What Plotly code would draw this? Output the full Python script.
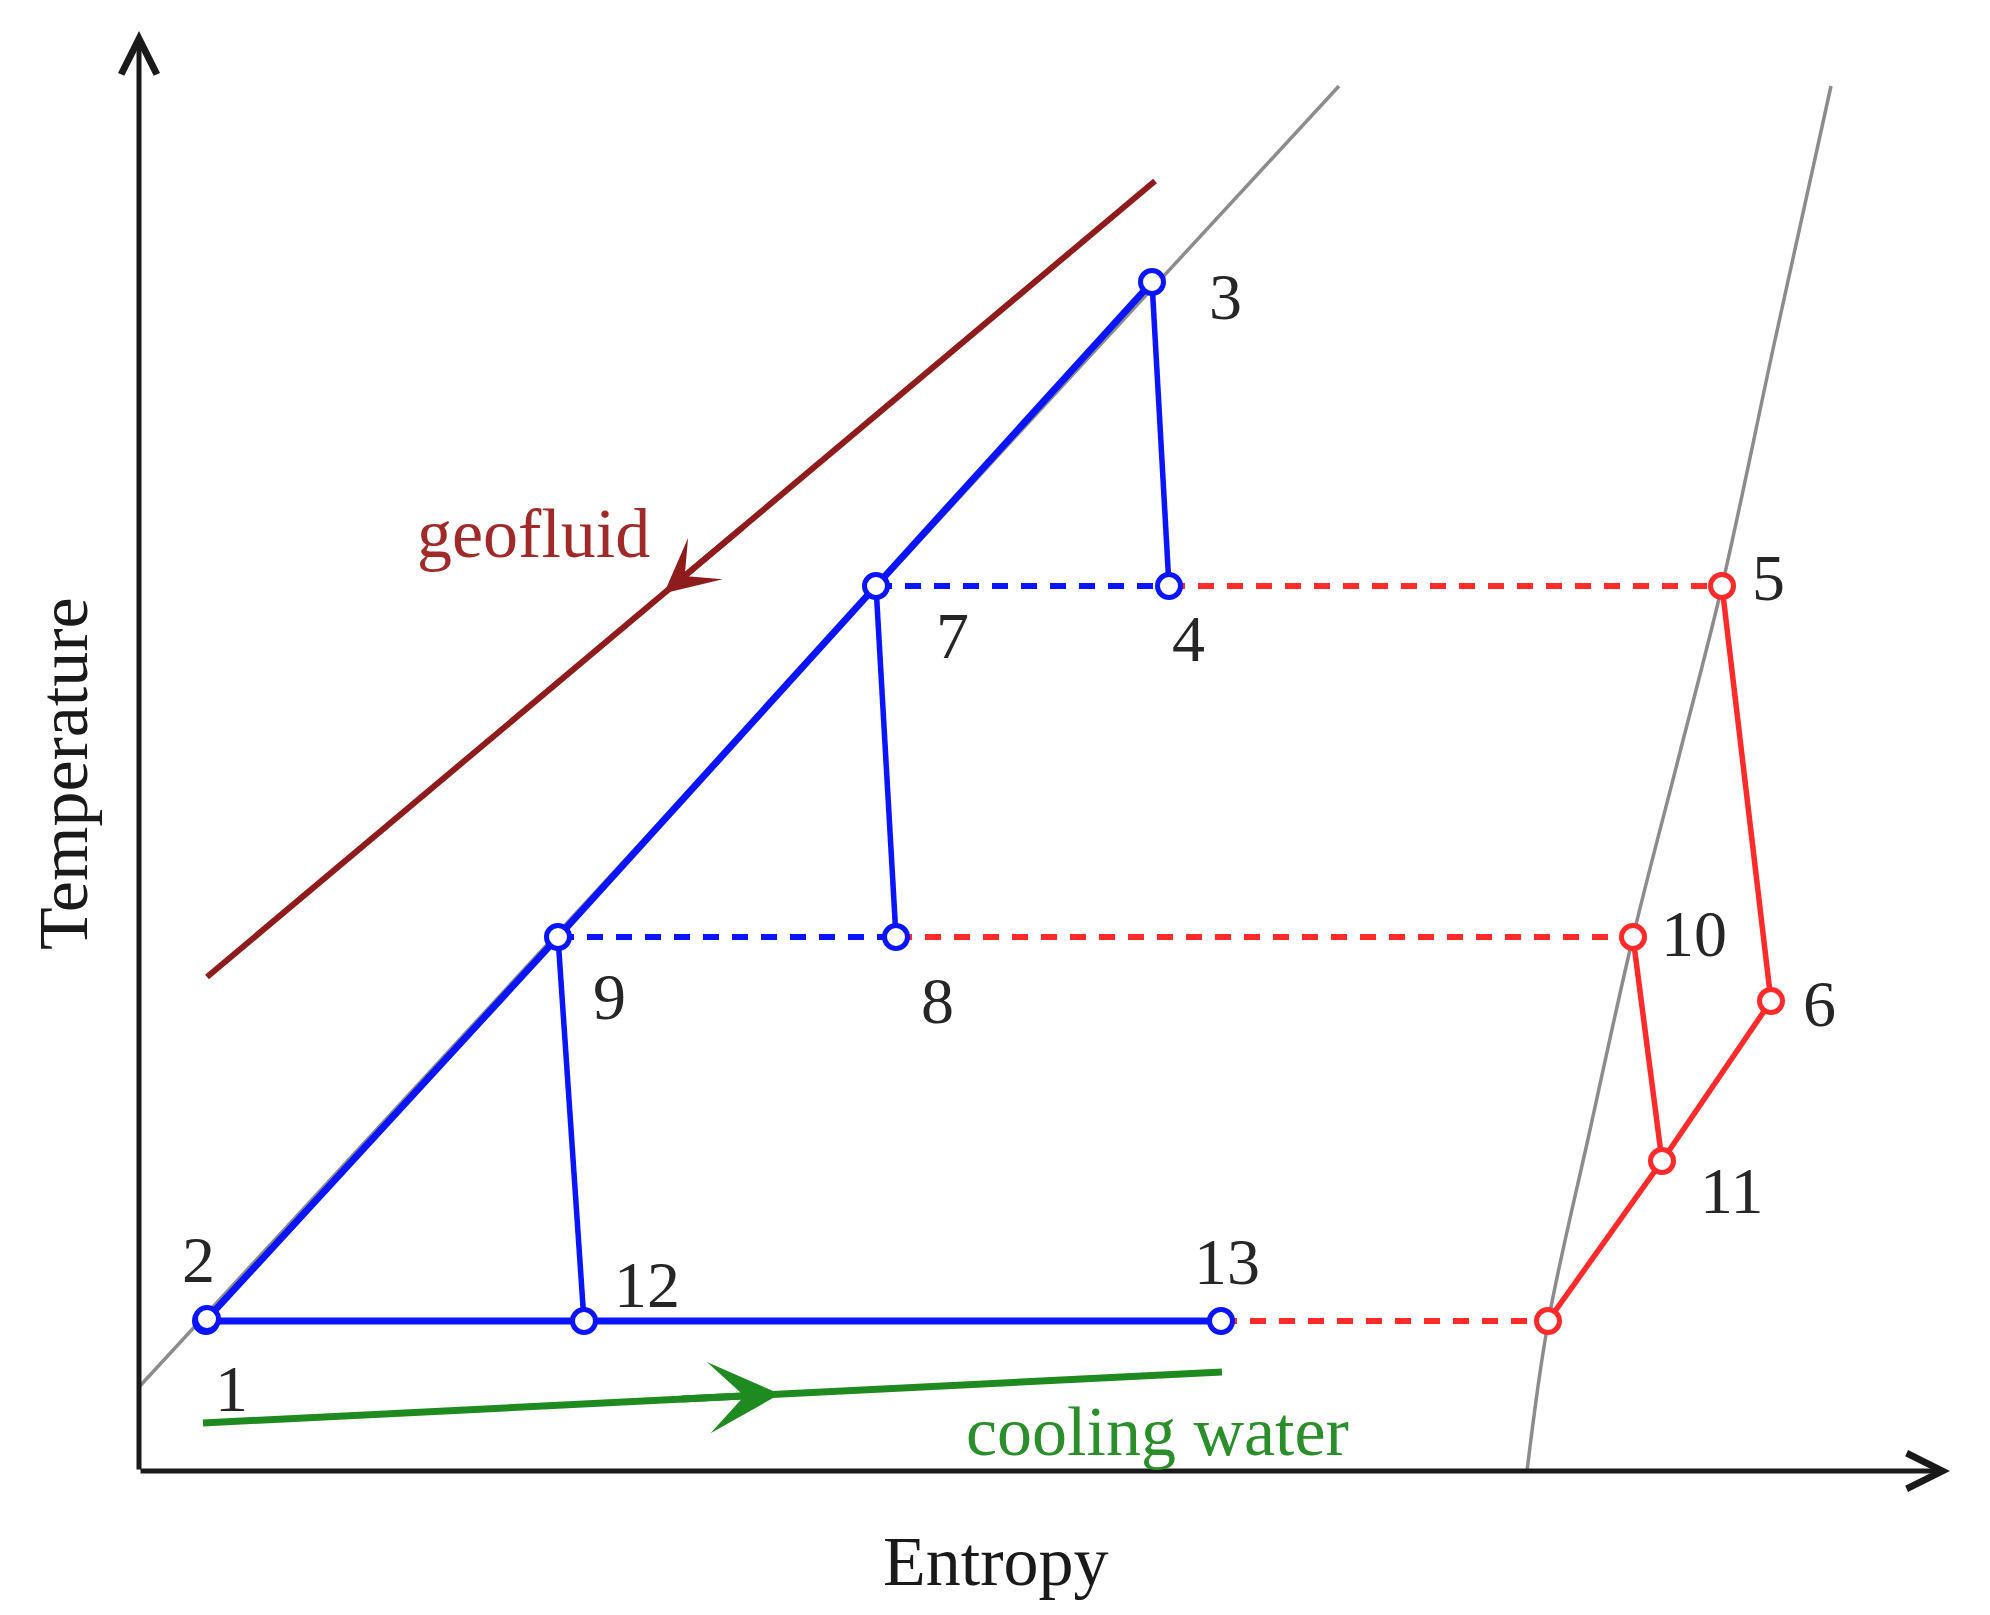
import plotly.graph_objects as go

# ---------------- data (schematic T-s diagram, arbitrary units) ----------------
# state points: entropy s, temperature T
point_ids = ["1", "2", "3", "4", "5", "6", "7", "8", "9", "10", "11", "12", "13", "b"]
point_s = [6.7, 6.8, 101.3, 103.0, 158.3, 163.2, 73.7, 75.7, 41.9, 149.4, 152.3, 44.5, 108.2, 140.9]
point_T = [15.0, 15.2, 118.9, 88.5, 88.5, 47.0, 88.5, 53.4, 53.4, 53.4, 31.0, 15.0, 15.0, 15.0]
point_fluid = ["b", "b", "b", "b", "r", "r", "b", "b", "b", "r", "r", "b", "b", "r"]
P = {k: (s, t) for k, s, t in zip(point_ids, point_s, point_T)}

# saturation curves
sat_liq_s = [0.0, 120.0]
sat_liq_T = [8.4, 138.5]
sat_vap_s = [138.8, 140.9, 145.1, 149.4, 153.9, 158.3, 163.6, 169.2]
sat_vap_T = [0.0, 14.8, 34.1, 53.4, 71.1, 88.5, 113.1, 138.5]

# geofluid and cooling water streams
geo_s = [101.6, 6.8]
geo_T = [129.0, 49.4]
cw_s = [6.4, 108.3]
cw_T = [4.8, 9.9]

# process paths
blue_thick = [["2", "9", "7", "3"], ["1", "12", "13"]]
blue_thin = [["3", "4"], ["7", "8"], ["9", "12"]]
blue_dash = [["7", "4"], ["9", "8"]]
red_dash = [["4", "5"], ["8", "10"], ["13", "b"]]
red_solid = [["5", "6", "11", "b"], ["10", "11"]]

# axes extent
axis_s_max = 181.1
axis_T_max = 144.0

# ---------------- styling ----------------
BLUE = "#0a14ff"
RED = "#ff2a2a"
GRAY = "#8c8c8c"
GEO = "#8e1c1c"
GREEN = "#1f8a1f"
FONT = "Liberation Serif"
DASH = "16px,13px"

label_shift = {  # pixel offsets of the number labels
    "1": (25, -67), "2": (-9, 60), "3": (73, -14), "4": (19, -52),
    "5": (46, 9), "6": (48, -2), "7": (76, -49), "8": (41, -63),
    "9": (51, -59), "10": (61, 4), "11": (70, -29), "12": (63, 37),
    "13": (6, 60),
}

fig = go.Figure()


def add_path(ids, color, width, dash="solid"):
    fig.add_trace(go.Scatter(
        x=[P[i][0] for i in ids], y=[P[i][1] for i in ids], mode="lines",
        line=dict(color=color, width=width, dash=dash), hoverinfo="skip",
        showlegend=False))


# saturation curves
fig.add_trace(go.Scatter(x=sat_liq_s, y=sat_liq_T, mode="lines",
                         line=dict(color=GRAY, width=3.5), showlegend=False))
fig.add_trace(go.Scatter(x=sat_vap_s, y=sat_vap_T, mode="lines",
                         line=dict(color=GRAY, width=3.5, shape="spline"), showlegend=False))

# streams
fig.add_trace(go.Scatter(x=geo_s, y=geo_T, mode="lines",
                         line=dict(color=GEO, width=6), showlegend=False))
fig.add_trace(go.Scatter(x=cw_s, y=cw_T, mode="lines",
                         line=dict(color=GREEN, width=7), showlegend=False))

for p in red_dash:
    add_path(p, RED, 6, DASH)
for p in blue_dash:
    add_path(p, BLUE, 6, DASH)
for p in red_solid:
    add_path(p, RED, 5.5)
for p in blue_thin:
    add_path(p, BLUE, 5.5)
for p in blue_thick:
    add_path(p, BLUE, 7)

# state point markers
for fl, col in (("b", BLUE), ("r", RED)):
    idx = [i for i, f in enumerate(point_fluid) if f == fl]
    fig.add_trace(go.Scatter(
        x=[point_s[i] for i in idx], y=[point_T[i] for i in idx], mode="markers",
        marker=dict(symbol="circle", size=23, color="white",
                    line=dict(color=col, width=5)),
        showlegend=False))

annotations = []
# axes with arrows
annotations.append(dict(x=axis_s_max, y=0, ax=0, ay=0, xref="x", yref="y",
                        axref="x", ayref="y", showarrow=True, arrowhead=5,
                        arrowwidth=5, arrowsize=1.4, arrowcolor="#1a1a1a", text=""))
annotations.append(dict(x=0, y=axis_T_max, ax=0, ay=0, xref="x", yref="y",
                        axref="x", ayref="y", showarrow=True, arrowhead=5,
                        arrowwidth=5, arrowsize=1.4, arrowcolor="#1a1a1a", text=""))

# flow direction arrowheads
geo_tip_s = 52.5
geo_tip_T = geo_T[1] + (geo_tip_s - geo_s[1]) * (geo_T[0] - geo_T[1]) / (geo_s[0] - geo_s[1])
annotations.append(dict(x=geo_tip_s, y=geo_tip_T, ax=geo_tip_s + 8, ay=geo_tip_T + 6.7,
                        xref="x", yref="y", axref="x", ayref="y", showarrow=True,
                        arrowhead=3, arrowwidth=6, arrowsize=1.5, arrowcolor=GEO, text=""))
cw_tip_s = 64.1
cw_tip_T = cw_T[0] + (cw_tip_s - cw_s[0]) * (cw_T[1] - cw_T[0]) / (cw_s[1] - cw_s[0])
annotations.append(dict(x=cw_tip_s, y=cw_tip_T, ax=cw_tip_s - 10, ay=cw_tip_T - 0.5,
                        xref="x", yref="y", axref="x", ayref="y", showarrow=True,
                        arrowhead=3, arrowwidth=7, arrowsize=1.7, arrowcolor=GREEN, text=""))

# number labels
for k, (dx, dy) in label_shift.items():
    annotations.append(dict(x=P[k][0], y=P[k][1], xref="x", yref="y", text=k,
                            showarrow=False, xshift=dx, yshift=dy,
                            font=dict(family=FONT, size=66, color="#262626")))

annotations.append(dict(x=39.4, y=93.8, xref="x", yref="y", text="geofluid",
                        showarrow=False, font=dict(family=FONT, size=70, color="#a02a2a")))
annotations.append(dict(x=101.8, y=4.0, xref="x", yref="y", text="cooling water",
                        showarrow=False, font=dict(family=FONT, size=70, color="#2a8f2a")))
annotations.append(dict(x=85.7, y=-9.0, xref="x", yref="y", text="Entropy",
                        showarrow=False, font=dict(family=FONT, size=70, color="#1a1a1a")))
annotations.append(dict(x=-7.6, y=69.7, xref="x", yref="y", text="Temperature",
                        showarrow=False, textangle=-90,
                        font=dict(family=FONT, size=70, color="#1a1a1a")))

fig.update_layout(
    width=1990, height=1615,
    margin=dict(l=0, r=0, t=0, b=0),
    paper_bgcolor="white", plot_bgcolor="white",
    xaxis=dict(range=[-13.9, 185.1], visible=False, fixedrange=True),
    yaxis=dict(range=[-14.4, 147.1], visible=False, fixedrange=True),
    annotations=annotations,
    showlegend=False,
)

fig.write_html("out.html", config={"displayModeBar": False},
               post_script="document.body.style.margin='0';document.body.style.overflow='hidden';")
